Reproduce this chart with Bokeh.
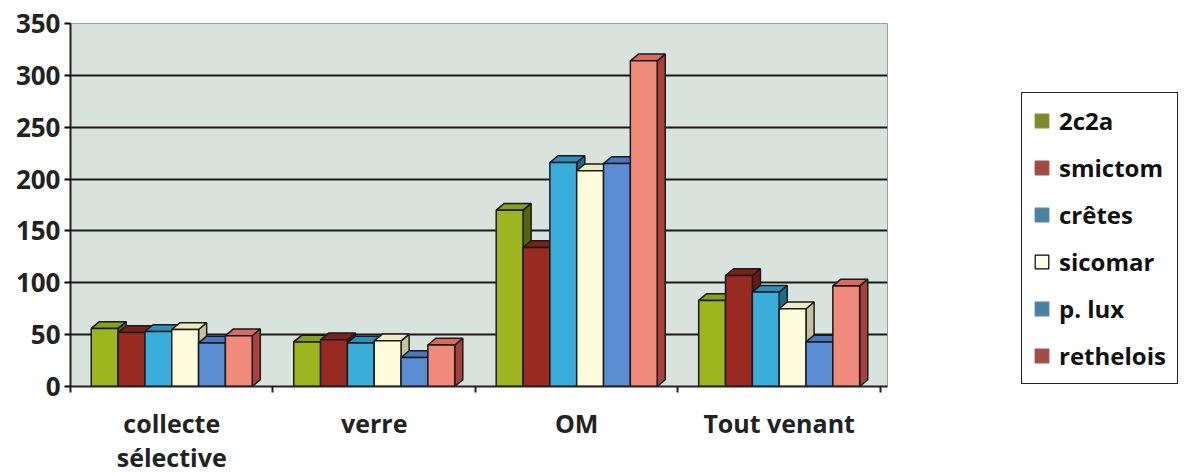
from bokeh.plotting import figure
from bokeh.layouts import row
from bokeh.models import FixedTicker, Legend, LegendItem, Range1d
from bokeh.embed import file_html
from bokeh.resources import INLINE

categories = ["collecte\nsélective", "verre", "OM", "Tout venant"]
series = ["2c2a", "smictom", "crêtes", "sicomar", "p. lux", "rethelois"]
v_2c2a = [56, 43, 170, 83]
v_smictom = [52, 45, 134, 107]
v_cretes = [53, 42, 216, 91]
v_sicomar = [55, 44, 208, 75]
v_plux = [42, 28, 215, 43]
v_rethelois = [49, 40, 314, 97]
values = [v_2c2a, v_smictom, v_cretes, v_sicomar, v_plux, v_rethelois]
y_ticks = [0, 50, 100, 150, 200, 250, 300, 350]

front = ["#9db51f", "#992a22", "#3badda", "#fcfbdc", "#5b8dd3", "#f08a7b"]
side = ["#55650f", "#651a15", "#1d6b8c", "#c4c39c", "#39599a", "#a8403c"]
top = ["#85a01a", "#7c211a", "#2b91bc", "#ecebc2", "#4a77c0", "#d96a62"]
legend_col = ["#7d8b2c", "#9d4c44", "#4a82a3", "#fdfde8", "#4a7fa5", "#9f4d45"]

FONT = "Open Sans"
nan = float("nan")
p = figure(width=900, height=476, output_backend="svg", toolbar_location=None,
           x_range=Range1d(-0.5, 3.535), y_range=Range1d(0, 350),
           min_border_left=70, min_border_top=23, min_border_bottom=90,
           min_border_right=13)
p.background_fill_color = "#d9e3de"
p.border_fill_color = "white"
p.outline_line_color = "#9aa39f"
p.outline_line_width = 1

group_w = 0.795
w = group_w / 6
dx = 0.04
dy = 6.5
for s, name in enumerate(series):
    vals = values[s]
    lefts = [c - group_w / 2 + s * w for c in range(len(categories))]
    xs_side, ys_side, xs_top, ys_top = [], [], [], []
    for l, v in zip(lefts, vals):
        r = l + w
        xs_side.append([r, r + dx, r + dx, r])
        ys_side.append([0, dy, v + dy, v])
        xs_top.append([l, l + dx, r + dx, r])
        ys_top.append([v, v + dy, v + dy, v])
    p.patches(xs_side, ys_side, fill_color=side[s], line_color="#1a1a1a", line_width=1.5)
    p.patches(xs_top, ys_top, fill_color=top[s], line_color="#1a1a1a", line_width=1.5)
    p.quad(left=lefts, right=[l + w for l in lefts], bottom=0, top=vals,
           fill_color=front[s], line_color="#1a1a1a", line_width=1.5)

# y axis
p.yaxis.ticker = FixedTicker(ticks=y_ticks)
p.yaxis.major_label_text_font = FONT
p.yaxis.major_label_text_font_style = "bold"
p.yaxis.major_label_text_font_size = "26px"
p.yaxis.major_label_text_color = "#222222"
p.yaxis.major_tick_out = 6
p.yaxis.major_tick_in = 0
p.yaxis.minor_tick_line_color = None
p.yaxis.axis_line_color = "#222222"
p.yaxis.axis_line_width = 2
p.yaxis.major_tick_line_width = 2
p.yaxis.major_label_standoff = 4

# x axis
p.xaxis.ticker = FixedTicker(ticks=list(range(len(categories))),
                             minor_ticks=[i - 0.5 for i in range(len(categories) + 1)])
p.xaxis.major_label_overrides = {i: c for i, c in enumerate(categories)}
p.xaxis.major_label_text_font = FONT
p.xaxis.major_label_text_font_style = "bold"
p.xaxis.major_label_text_font_size = "25px"
p.xaxis.major_label_text_line_height = 1.0
p.xaxis.major_label_text_color = "#222222"
p.xaxis.major_tick_line_color = None
p.xaxis.minor_tick_out = 6
p.xaxis.minor_tick_in = 0
p.xaxis.minor_tick_line_color = "#222222"
p.xaxis.minor_tick_line_width = 2
p.xaxis.axis_line_color = "#222222"
p.xaxis.axis_line_width = 2
p.xaxis.major_label_standoff = 13

p.xgrid.grid_line_color = None
p.ygrid.ticker = FixedTicker(ticks=y_ticks[1:-1])
p.ygrid.grid_line_color = "#1a1a1a"
p.ygrid.grid_line_width = 2

# legend panel
q = figure(width=285, height=476, output_backend="svg", toolbar_location=None,
           x_axis_type=None, y_axis_type=None, min_border=0,
           min_border_left=119,
           x_range=Range1d(0, 1), y_range=Range1d(0, 1))
q.outline_line_color = None
q.xgrid.grid_line_color = None
q.ygrid.grid_line_color = None
leg_items = []
for s, name in enumerate(series):
    lr = q.quad(left=[nan], right=[nan], bottom=[nan], top=[nan], fill_color=legend_col[s],
                line_color="black" if name == "sicomar" else legend_col[s], line_width=1.2)
    leg_items.append(LegendItem(label=name, renderers=[lr]))

legend = Legend(items=leg_items, location="bottom_left")
legend.label_text_font = FONT
legend.label_text_font_style = "bold"
legend.label_text_font_size = "24px"
legend.label_text_color = "#111111"
legend.glyph_width = 17
legend.glyph_height = 17
legend.label_standoff = 9
legend.spacing = 14
legend.padding = 11
legend.margin = 2
legend.border_line_color = "#222222"
legend.border_line_width = 1.5
legend.border_line_alpha = 1.0
legend.background_fill_color = "white"
legend.background_fill_alpha = 1.0
q.add_layout(legend)

layout = row(p, q)
open("out.html", "w").write(file_html(layout, INLINE))
